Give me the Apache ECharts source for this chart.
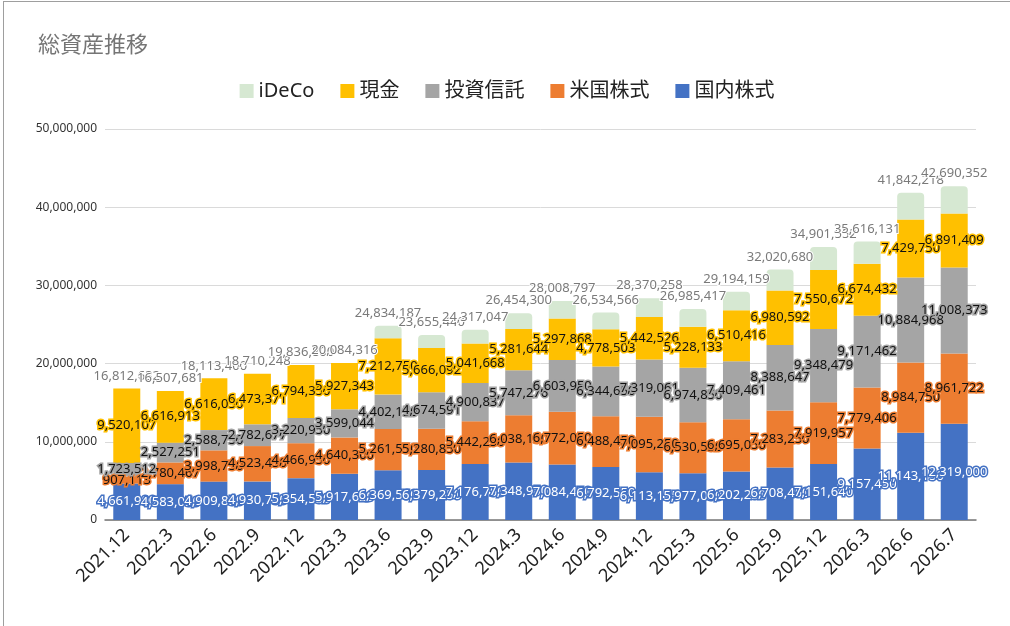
<!DOCTYPE html>
<html lang="ja" style="height: 100%">
<head>
  <meta charset="utf-8">
</head>
<body style="height: 100%; margin: 0; background: #fff">
  <div id="container" style="position: absolute; left: 3px; top: 1px; width: 1007px; height: 625px; border-left: 1px solid #9e9e9e; border-top: 1px solid #9e9e9e; box-sizing: border-box"></div>

  <script type="text/javascript" src="https://fastly.jsdelivr.net/npm/echarts@6/dist/echarts.min.js"></script>
  <script type="text/javascript">
    var categories = ['2021.12', '2022.3', '2022.6', '2022.9', '2022.12', '2023.3', '2023.6', '2023.9', '2023.12', '2024.3',
      '2024.6', '2024.9', '2024.12', '2025.3', '2025.6', '2025.9', '2025.12', '2026.3', '2026.6', '2026.7'];
    // 国内株式
    var domestic = [4661900, 4583050, 4909850, 4930750, 5354550, 5917629, 6369550, 6379250, 7176750, 7348950,
      7084450, 6792550, 6113155, 5977050, 6202250, 6708450, 7151640, 9157450, 11143150, 12319000];
    // 米国株式
    var usStocks = [907113, 2780467, 3998750, 4523450, 4466950, 4640300, 5261550, 5280850, 5442250, 6038150,
      6772050, 6488450, 7095250, 6530550, 6695050, 7283250, 7919957, 7779406, 8984750, 8961722];
    // 投資信託
    var funds = [1723512, 2527251, 2588750, 2782677, 3220950, 3599044, 4402150, 4674591, 4900837, 5747276,
      6603950, 6344650, 7319061, 6974850, 7409461, 8388647, 9348479, 9171462, 10884968, 11008373];
    // 現金
    var cash = [9520107, 6616913, 6616050, 6473371, 6794350, 5927343, 7212750, 5666092, 5041668, 5281644,
      5297868, 4778503, 5442526, 5228133, 6510416, 6980592, 7550672, 6674432, 7429750, 6891409];
    // iDeCo
    var ideco = [0, 0, 0, 0, 0, 0, 1588187, 1654657, 1755542, 2038280,
      2250479, 2130413, 2400266, 2274834, 2376982, 2659741, 2930804, 2833381, 3399600, 3509848];

    var totals = categories.map(function (c, i) {
      return domestic[i] + usStocks[i] + funds[i] + cash[i] + ideco[i];
    });

    function fmt(v) {
      return Number(v).toLocaleString('en-US');
    }

    var FONT = '"Noto Sans", "Noto Sans CJK JP", sans-serif';

    function segLabel(color, border) {
      return {
        show: true,
        position: 'inside',
        fontFamily: FONT,
        fontSize: 13,
        color: color,
        textBorderColor: border,
        textBorderWidth: 3,
        formatter: function (p) { return fmt(p.value); }
      };
    }

    var dom = document.getElementById('container');
    var myChart = echarts.init(dom, null, { renderer: 'canvas' });

    var option = {
      animation: false,
      textStyle: { fontFamily: FONT },
      title: {
        text: '総資産推移',
        left: 29,
        top: 28,
        textStyle: { fontFamily: FONT, fontSize: 22, fontWeight: 'normal', color: '#757575' }
      },
      legend: {
        data: ['iDeCo', '現金', '投資信託', '米国株式', '国内株式'],
        top: 74,
        left: 'center',
        itemWidth: 14,
        itemHeight: 14,
        itemGap: 26,
        icon: 'rect',
        textStyle: { fontFamily: FONT, fontSize: 20, color: '#222' }
      },
      grid: {
        left: 101,
        right: 34,
        top: 127,
        bottom: 106
      },
      xAxis: {
        type: 'category',
        data: categories,
        axisTick: { show: false },
        axisLine: { lineStyle: { color: '#777', width: 1.5 } },
        axisLabel: {
          interval: 0,
          rotate: 45,
          fontSize: 18,
          color: '#222',
          margin: 12,
          fontFamily: FONT
        }
      },
      yAxis: {
        type: 'value',
        min: 0,
        max: 50000000,
        interval: 10000000,
        axisLine: { show: false },
        axisTick: { show: false },
        splitLine: { lineStyle: { color: '#dadada' } },
        axisLabel: {
          fontSize: 12,
          color: '#333',
          margin: 8,
          fontFamily: FONT,
          formatter: function (v) { return fmt(v); }
        }
      },
      series: [
        {
          name: '国内株式', type: 'bar', stack: 'total', data: domestic,
          barCategoryGap: '38%',
          itemStyle: { color: '#4472c4' },
          label: segLabel('#ffffff', '#4472c4')
        },
        {
          name: '米国株式', type: 'bar', stack: 'total', data: usStocks,
          itemStyle: { color: '#ed7d31' },
          label: segLabel('#111111', '#ed7d31')
        },
        {
          name: '投資信託', type: 'bar', stack: 'total', data: funds,
          itemStyle: { color: '#a5a5a5' },
          label: segLabel('#111111', '#a5a5a5')
        },
        {
          name: '現金', type: 'bar', stack: 'total', data: cash,
          itemStyle: { color: '#ffc000' },
          label: segLabel('#111111', '#ffc000')
        },
        {
          name: 'iDeCo', type: 'bar', stack: 'total', data: ideco,
          itemStyle: { color: '#d6e8d2', borderRadius: [4, 4, 0, 0] },
          label: {
            show: true,
            position: 'top',
            distance: 6,
            fontFamily: FONT,
            fontSize: 13,
            color: '#7a7a7a',
            textBorderColor: '#ffffff',
            textBorderWidth: 2,
            formatter: function (p) { return fmt(totals[p.dataIndex]); }
          }
        }
      ]
    };

    myChart.setOption(option);
    window.addEventListener('resize', myChart.resize);
  </script>
</body>
</html>
